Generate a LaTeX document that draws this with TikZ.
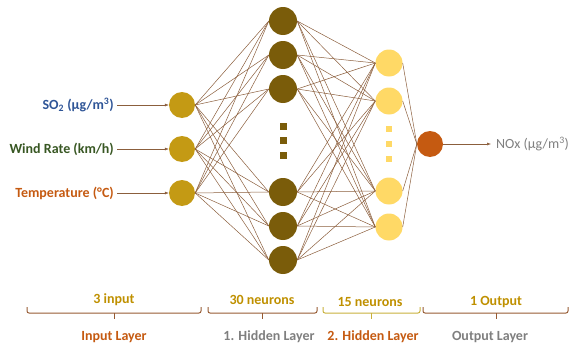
\documentclass[tikz,border=0pt]{standalone}
\usepackage{fontspec}
\setmainfont{Carlito}
\usetikzlibrary{arrows.meta}

\definecolor{inGold}{RGB}{196,154,20}
\definecolor{hidOne}{RGB}{122,92,10}
\definecolor{hidTwo}{RGB}{255,217,102}
\definecolor{outRust}{RGB}{197,90,17}
\definecolor{wireBrown}{RGB}{139,94,60}
\definecolor{labBlue}{RGB}{47,85,151}
\definecolor{labGreen}{RGB}{56,87,35}
\definecolor{labGold}{RGB}{191,144,0}
\definecolor{labGray}{RGB}{127,127,127}
\definecolor{braceBrown}{RGB}{150,90,50}
\definecolor{braceYellow}{RGB}{200,176,60}

\begin{document}
\begin{tikzpicture}[x=1pt,y=-1pt,
    neuron/.style={circle,inner sep=0pt,minimum size=26pt},
    wire/.style={draw=wireBrown,line width=0.5pt},
    feed/.style={wire,-{Latex[length=4pt,width=3pt]}},
    lbl/.style={font=\fontsize{14}{16}\selectfont\bfseries,inner sep=3pt},
    vdot/.style={inner sep=0pt,minimum size=7pt},
    layerbrace/.style={line width=1pt,rounded corners=2pt}]
    \useasboundingbox (0,0) rectangle (574,348);

    % input layer
    \node[neuron,fill=inGold] (i1) at (182,105) {};
    \node[neuron,fill=inGold] (i2) at (182,149) {};
    \node[neuron,fill=inGold] (i3) at (182,193) {};

    % 1. hidden layer
    \node[neuron,minimum size=28pt,fill=hidOne] (h1) at (283,21) {};
    \node[neuron,minimum size=28pt,fill=hidOne] (h2) at (283,55) {};
    \node[neuron,minimum size=28pt,fill=hidOne] (h3) at (283,89) {};
    \node[neuron,minimum size=28pt,fill=hidOne] (h4) at (283,192) {};
    \node[neuron,minimum size=28pt,fill=hidOne] (h5) at (283,226) {};
    \node[neuron,minimum size=28pt,fill=hidOne] (h6) at (283,260) {};
    \node[vdot,fill=hidOne] (hd1) at (283,126) {};
    \node[vdot,fill=hidOne] (hd2) at (283,140) {};
    \node[vdot,fill=hidOne] (hd3) at (283,155) {};

    % 2. hidden layer
    \node[neuron,minimum size=27pt,fill=hidTwo] (k1) at (389,63) {};
    \node[neuron,minimum size=27pt,fill=hidTwo] (k2) at (389,101) {};
    \node[neuron,minimum size=27pt,fill=hidTwo] (k3) at (389,191) {};
    \node[neuron,minimum size=27pt,fill=hidTwo] (k4) at (389,227) {};
    \node[vdot,minimum size=6pt,fill=hidTwo] (kd1) at (389,129) {};
    \node[vdot,minimum size=6pt,fill=hidTwo] (kd2) at (389,144) {};
    \node[vdot,minimum size=6pt,fill=hidTwo] (kd3) at (389,159) {};

    % output layer
    \node[neuron,fill=outRust] (o) at (430,144) {};

    % connections
    \foreach \a in {1,2,3}
        \foreach \b in {1,...,6}
            \draw[wire] (i\a.east) -- (h\b.west);
    \foreach \a in {1,...,6}
        \foreach \b in {1,...,4}
            \draw[wire] (h\a.east) -- (k\b.west);
    \foreach \b in {1,...,4}
        \draw[wire] (k\b.east) -- (o.west);

    % inputs and output
    \node[lbl,text=labBlue,anchor=east] (so2) at (117,105) {SO\textsubscript{2} (µg/m\textsuperscript{3})};
    \node[lbl,text=labGreen,anchor=east] (wind) at (117,149) {Wind Rate (km/h)};
    \node[lbl,text=outRust,anchor=east] (temp) at (117,193) {Temperature (°C)};
    \draw[feed] (so2) -- (i1);
    \draw[feed] (wind) -- (i2);
    \draw[feed] (temp) -- (i3);
    \node[lbl,font=\fontsize{14}{16}\selectfont,text=labGray,anchor=west,inner sep=5pt] (nox) at (491,144) {NOx (µg/m\textsuperscript{3})};
    \draw[feed] (o) -- (nox);

    % layer braces
    \draw[layerbrace,draw=braceBrown] (27,307) -- (27,313) -- (201,313) -- (201,307);
    \draw[layerbrace,draw=braceBrown] (114,313) -- (114,319);
    \draw[layerbrace,draw=braceBrown] (208,307) -- (208,313) -- (317,313) -- (317,307);
    \draw[layerbrace,draw=braceBrown] (262,313) -- (262,319);
    \draw[layerbrace,draw=braceYellow] (323,307) -- (323,313) -- (420,313) -- (420,307);
    \draw[layerbrace,draw=braceYellow] (371,313) -- (371,319);
    \draw[layerbrace,draw=braceBrown] (423,307) -- (423,313) -- (568,313) -- (568,307);
    \draw[layerbrace,draw=braceBrown] (496,313) -- (496,319);

    \node[lbl,text=labGold] (n1) at (114,300) {3 input};
    \node[lbl,text=labGold] (n2) at (262,300) {30 neurons};
    \node[lbl,text=labGold] (n3) at (370,302) {15 neurons};
    \node[lbl,text=labGold] (n4) at (496,302) {1 Output};

    \node[lbl,text=outRust] (l1) at (114,337) {Input Layer};
    \node[lbl,text=labGray] (l2) at (269,337) {1. Hidden Layer};
    \node[lbl,text=outRust] (l3) at (373,337) {2. Hidden Layer};
    \node[lbl,text=labGray] (l4) at (490,337) {Output Layer};
\end{tikzpicture}
\end{document}
